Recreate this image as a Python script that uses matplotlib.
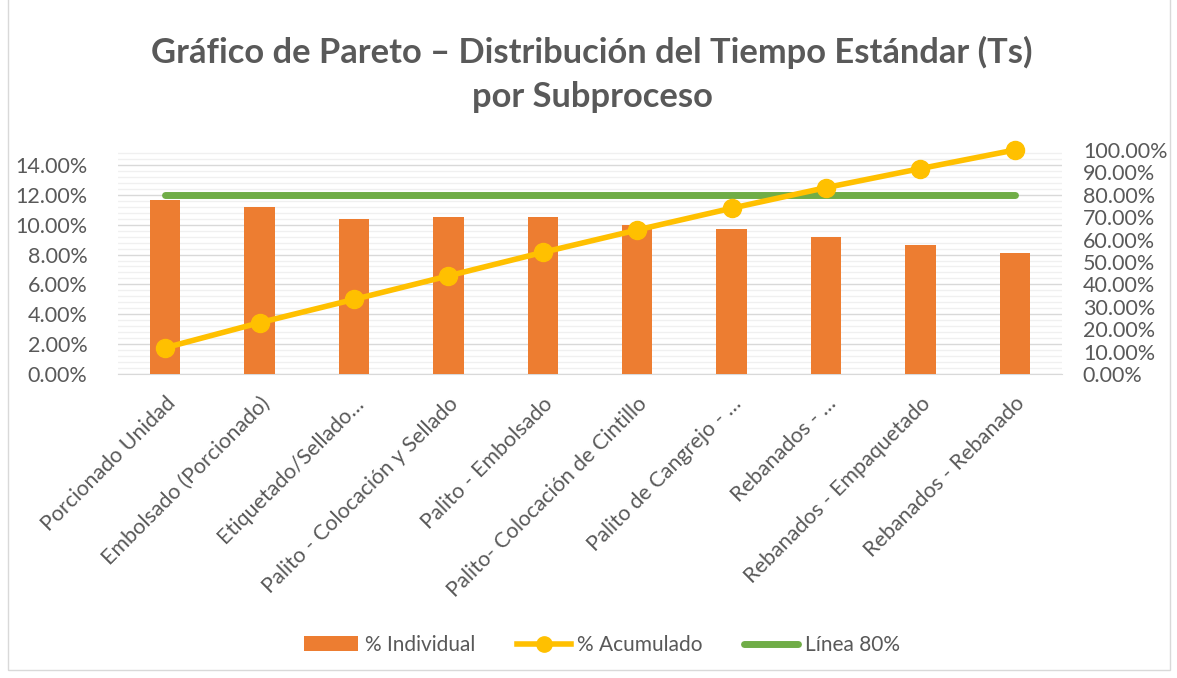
import matplotlib
matplotlib.use("Agg")
import matplotlib.pyplot as plt
from matplotlib.ticker import MultipleLocator, FuncFormatter
from matplotlib.lines import Line2D
from matplotlib.patches import Patch, Rectangle

categories = ["Porcionado Unidad", "Embolsado (Porcionado)", "Etiquetado/Sellado…",
              "Palito - Colocación y Sellado", "Palito - Embolsado",
              "Palito- Colocación de Cintillo", "Palito de Cangrejo - …",
              "Rebanados - …", "Rebanados - Empaquetado", "Rebanados - Rebanado"]
individual = [11.65, 11.2, 10.4, 10.5, 10.5, 9.95, 9.7, 9.15, 8.65, 8.1]
cumulative = [11.7, 22.9, 33.3, 43.8, 54.3, 64.3, 74.0, 83.2, 91.7, 100.0]
line80 = [80] * len(categories)

plt.rcParams['font.family'] = ['Lato', 'DejaVu Sans']
W, H = 1177, 678
fig = plt.figure(figsize=(W / 100, H / 100), dpi=100)
fig.patches.append(Rectangle((8 / W, 8 / H), (1170 - 8) / W, 1.0, transform=fig.transFigure,
                             fill=False, edgecolor='#d9d9d9', linewidth=1))

ax = fig.add_axes([118 / W, 1 - 374 / H, (1062 - 118) / W, (374 - 150) / H])
ax2 = ax.twinx()
txt = '#595959'
x = list(range(len(categories)))

ax.bar(x, individual, width=0.32, color='#ed7d31', zorder=3)
ax.set_xlim(-0.5, len(categories) - 0.5)
ax.set_ylim(0, 15)
ax.yaxis.set_major_locator(MultipleLocator(2))
ax.yaxis.set_minor_locator(MultipleLocator(0.4))
ax.yaxis.set_major_formatter(FuncFormatter(lambda v, p: f"{v:.2f}%"))
ax.grid(axis='y', which='major', color='#d9d9d9', linewidth=1, zorder=0)
ax.grid(axis='y', which='minor', color='#f0f0f0', linewidth=1, zorder=0)
ax.set_axisbelow(True)

ax2.plot(x, line80, color='#70ad47', linewidth=5, solid_capstyle='round', zorder=4)
ax2.plot(x, cumulative, color='#ffc000', linewidth=4, marker='o', markersize=13, zorder=5,
         clip_on=False)
ax2.set_ylim(0, 100)
ax2.yaxis.set_major_locator(MultipleLocator(10))
ax2.yaxis.set_major_formatter(FuncFormatter(lambda v, p: f"{v:.2f}%"))

for a in (ax, ax2):
    for s in a.spines.values():
        s.set_visible(False)
ax.spines['bottom'].set_visible(True)
ax.spines['bottom'].set_color('#d9d9d9')
ax.tick_params(axis='y', which='both', length=0, labelsize=15.5, labelcolor=txt, pad=22)
ax2.tick_params(axis='y', which='both', length=0, labelsize=15.5, labelcolor=txt, pad=15)
ax.tick_params(axis='x', length=0, pad=14)
ax.set_xticks(x)
ax.set_xticklabels(categories, rotation=45, ha='right', rotation_mode='anchor',
                   fontsize=15.5, color=txt)

fig.text(592 / W, 1 - 52 / H, "Gráfico de Pareto – Distribución del Tiempo Estándar (Ts)",
         ha='center', va='center', fontsize=24.8, fontweight='bold', color=txt)
fig.text(592 / W, 1 - 97 / H, "por Subproceso",
         ha='center', va='center', fontsize=24.8, fontweight='bold', color=txt)

handles = [Patch(facecolor='#ed7d31', edgecolor='none'),
           Line2D([], [], color='#ffc000', linewidth=4, marker='o', markersize=11),
           Line2D([], [], color='#70ad47', linewidth=5, solid_capstyle='round')]
labels = ["% Individual", "% Acumulado", "Línea 80%"]
fig.legend(handles, labels, loc='center', bbox_to_anchor=(602 / W, 1 - 645 / H), ncol=3,
           frameon=False, fontsize=15, labelcolor=txt, handlelength=2.6,
           handletextpad=0.3, columnspacing=2.0)

fig.savefig("out.png", dpi=100)
